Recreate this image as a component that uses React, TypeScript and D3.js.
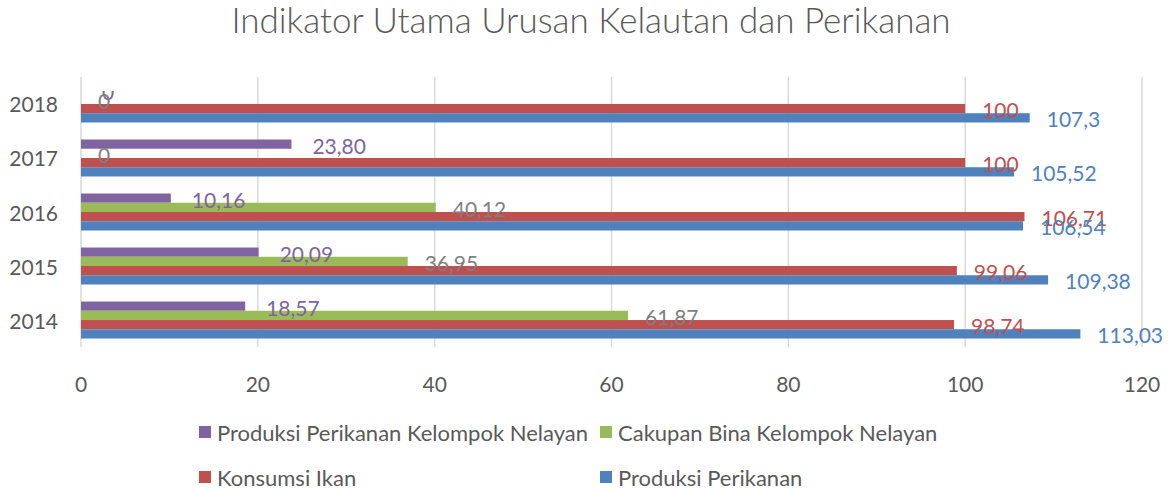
import React from "react";
import * as d3 from "d3";

const years = ["2014", "2015", "2016", "2017", "2018"];
const seriesNames = [
  "Produksi Perikanan Kelompok Nelayan",
  "Cakupan Bina Kelompok Nelayan",
  "Konsumsi Ikan",
  "Produksi Perikanan",
];
const produksiKelompok = [18.57, 20.09, 10.16, 23.8, 0];
const cakupanBina = [61.87, 36.95, 40.12, 0, 0];
const konsumsiIkan = [98.74, 99.06, 106.71, 100, 100];
const produksiPerikanan = [113.03, 109.38, 106.54, 105.52, 107.3];
const produksiKelompokLabels = ["18,57", "20,09", "10,16", "23,80", "0"];
const cakupanBinaLabels = ["61,87", "36,95", "40,12", "0", "0"];
const konsumsiIkanLabels = ["98,74", "99,06", "106,71", "100", "100"];
const produksiPerikananLabels = ["113,03", "109,38", "106,54", "105,52", "107,3"];
const xTicks = [0, 20, 40, 60, 80, 100, 120];

const colors = ["#8064A2", "#9BBB59", "#C0504D", "#4F81BD"];
const labelColors = ["#8064A2", "#7F7F7F", "#C0504D", "#4F81BD"];
const FONT = "Lato, 'Open Sans', sans-serif";

export default function App() {
  const W = 1173, H = 489;
  const plot = { left: 81, right: 1142, top: 77, bottom: 347 };
  const x = d3.scaleLinear().domain([0, 120]).range([plot.left, plot.right]);
  const y = d3
    .scaleBand<string>()
    .domain([...years].reverse())
    .range([plot.top, plot.bottom])
    .paddingInner(0.315)
    .paddingOuter(0.157);
  const inner = d3
    .scaleBand<number>()
    .domain([0, 1, 2, 3])
    .range([0, y.bandwidth()]);

  const values = [produksiKelompok, cakupanBina, konsumsiIkan, produksiPerikanan];
  const labels = [produksiKelompokLabels, cakupanBinaLabels, konsumsiIkanLabels, produksiPerikananLabels];

  const legendItems = [
    { i: 0, x: 199, y: 432 },
    { i: 1, x: 600, y: 432 },
    { i: 2, x: 199, y: 477 },
    { i: 3, x: 600, y: 477 },
  ];

  return (
    <svg width={W} height={H} style={{ position: "absolute", left: 0, top: 0, background: "#fff" }}>
      <defs>
        <clipPath id="lblclip">
          <rect x={0} y={91} width={W} height={H} />
        </clipPath>
      </defs>
      <text x={591} y={33} textAnchor="middle" fontFamily={FONT} fontWeight={300} fontSize={35} fill="#595959">
        Indikator Utama Urusan Kelautan dan Perikanan
      </text>
      {xTicks.map((t) => (
        <g key={t}>
          <line x1={x(t)} x2={x(t)} y1={plot.top} y2={plot.bottom} stroke="#D9D9D9" strokeWidth={1.5} />
          <text x={x(t)} y={383} textAnchor="middle" dominantBaseline="central" fontFamily={FONT} fontSize={21} fill="#595959">
            {t}
          </text>
        </g>
      ))}
      {years.map((yr) => (
        <text key={yr} x={58} y={(y(yr) as number) + y.bandwidth() / 2} textAnchor="end" dominantBaseline="central" fontFamily={FONT} fontSize={21} fill="#595959">
          {yr}
        </text>
      ))}
      {years.map((yr, yi) => (
        <g key={yr}>
          {values.map((vals, si) => (
            <rect key={si} x={x(0)} y={(y(yr) as number) + (inner(si) as number)} width={x(vals[yi]) - x(0)} height={inner.bandwidth()} fill={colors[si]} />
          ))}
        </g>
      ))}
      <g clipPath="url(#lblclip)">
        {years.map((yr, yi) =>
          values.map((vals, si) => (
            <text
              key={yr + si}
              x={x(vals[yi]) + (si === 0 ? 21 : 17)}
              y={(y(yr) as number) + (inner(si) as number) + inner.bandwidth() / 2 + 1}
              dominantBaseline="central"
              fontFamily={FONT}
              fontSize={21}
              fill={labelColors[si]}
            >
              {labels[si][yi]}
            </text>
          ))
        )}
      </g>
      {legendItems.map((it) => (
        <g key={it.i}>
          <rect x={it.x} y={it.y - 6} width={12} height={12} fill={colors[it.i]} />
          <text x={it.x + 18} y={it.y} dominantBaseline="central" fontFamily={FONT} fontSize={22} fill="#595959">
            {seriesNames[it.i]}
          </text>
        </g>
      ))}
    </svg>
  );
}
